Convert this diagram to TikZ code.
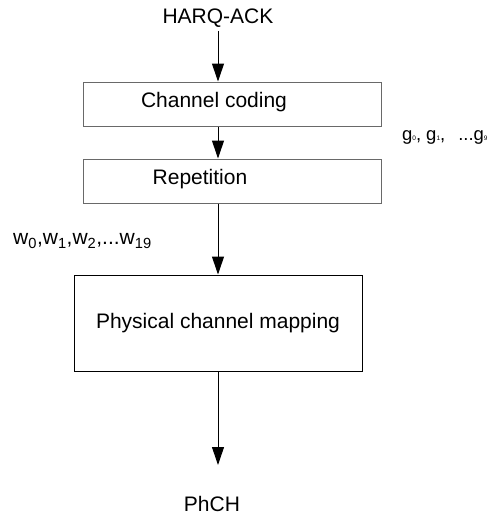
\documentclass[tikz,border=0pt]{standalone}
\usepackage{fontspec}
\setmainfont{Liberation Sans}
\usetikzlibrary{arrows.meta}
\definecolor{boxGray}{RGB}{105,105,105}
\definecolor{inkBlack}{RGB}{0,0,0}
\newcommand{\gsub}[1]{{\fontsize{6.5}{7}\selectfont #1}}

\begin{document}
\begin{tikzpicture}[x=1pt,y=-1pt]
\tikzstyle{every node}=[font=\fontsize{21}{25}\selectfont, text=inkBlack]
\tikzstyle{flow}=[draw=inkBlack, line width=1pt, -{Triangle[length=18pt,width=12pt]}]

  \useasboundingbox (0,0) rectangle (497,515);

  \node[] (harq) at (218,18) {HARQ-ACK};
  \node[draw=boxGray,line width=1pt,minimum width=298pt,minimum height=44pt,label={[xshift=-18pt,yshift=2pt]center:Channel coding}] (coding) at (232,104) {};
  \node[draw=boxGray,line width=1pt,minimum width=298pt,minimum height=44pt,label={[xshift=-32pt,yshift=2pt]center:Repetition}] (repet) at (232,181) {};
  \node[draw=inkBlack,line width=1pt,minimum width=288pt,minimum height=96pt] (mapping) at (218,323) {Physical channel mapping};
  \node[inner sep=1pt] (phch) at (212,504) {PhCH};
  \coordinate (phend) at (218,465);

  \node[anchor=west,inner sep=0pt] (wseq) at (13,241) {w\textsubscript{0},w\textsubscript{1},w\textsubscript{2},...w\textsubscript{19}};
  \node[anchor=west,inner sep=0pt,font=\fontsize{18.5}{22}\selectfont] (gseq) at (402,137) {g\gsub{0},\hspace{5pt}g\gsub{1},\hspace{13pt}...g\gsub{9}};

  \draw[flow] (harq.south) -- (harq.south |- coding.north);
  \draw[flow] (coding.south -| harq) -- (repet.north -| harq);
  \draw[flow] (repet.south -| mapping) -- (mapping.north);
  \draw[flow] (mapping.south) -- (phend);

\end{tikzpicture}
\end{document}
